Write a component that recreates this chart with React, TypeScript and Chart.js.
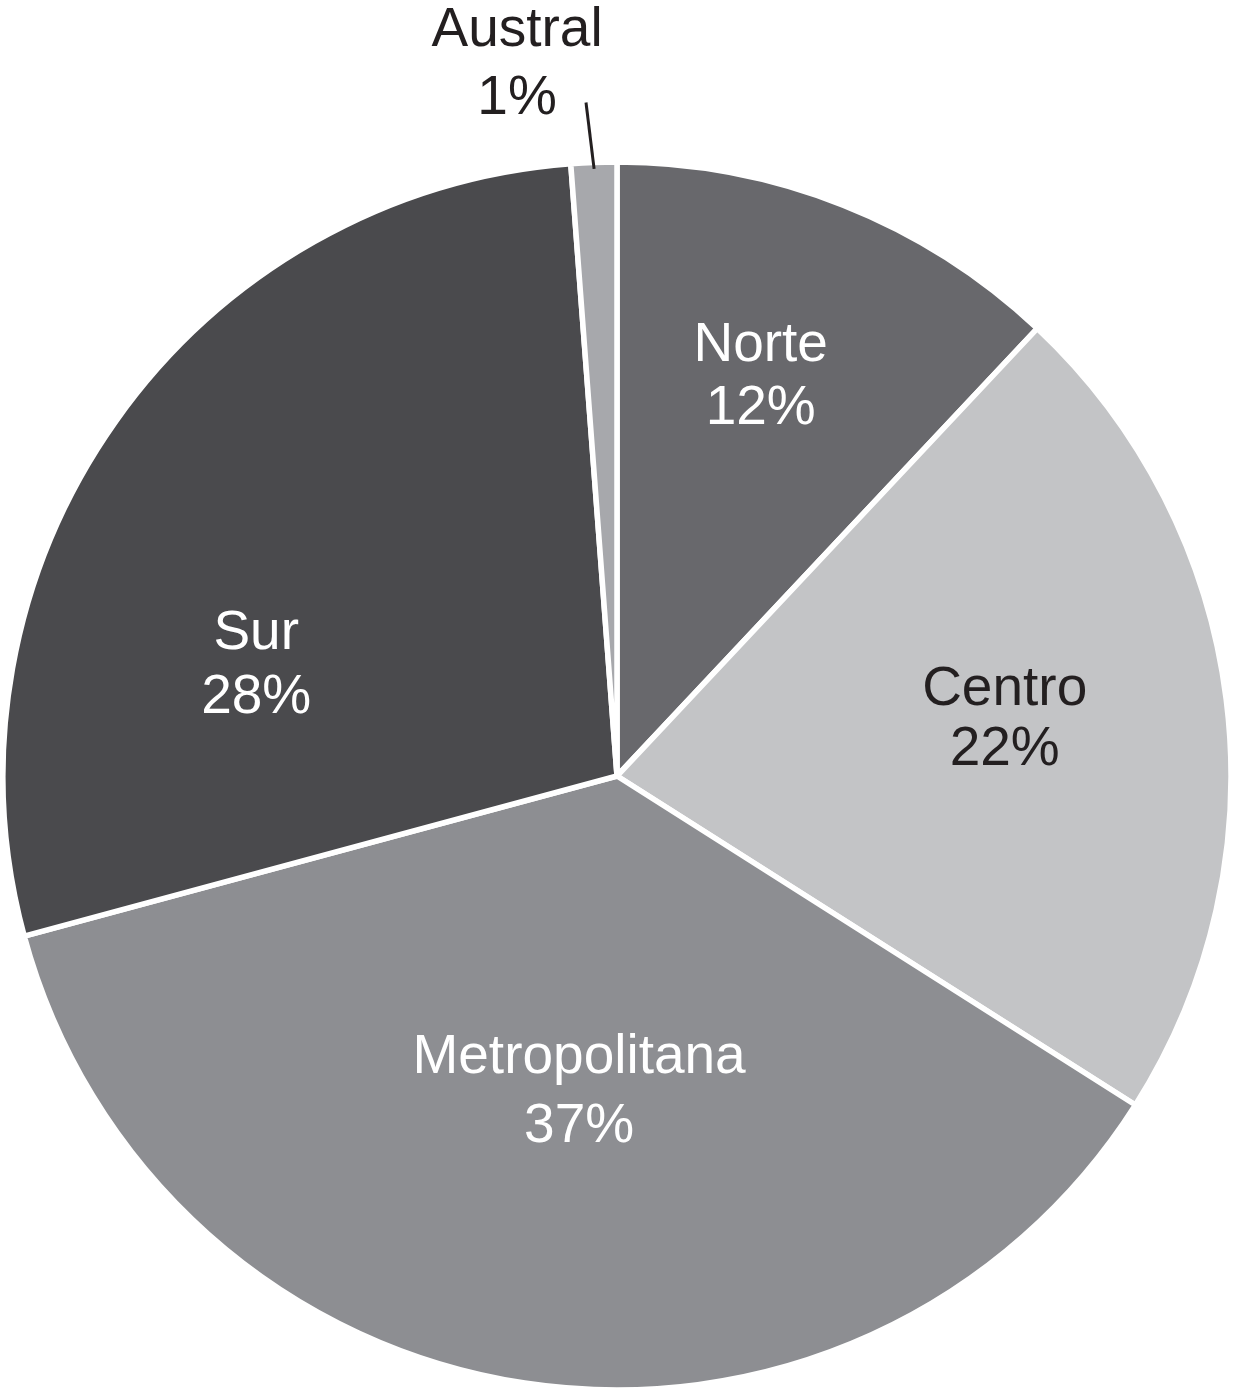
import React, { useEffect, useRef } from "react";
import { Chart, registerables } from "chart.js";

Chart.register(...registerables);

const regions = ["Norte", "Centro", "Metropolitana", "Sur", "Austral"];
const shares = [12.0, 22.0, 36.8, 28.0, 1.2];
const percentLabels = ["12%", "22%", "37%", "28%", "1%"];
const sliceColors = ["#68686c", "#c3c4c6", "#8d8e92", "#4a4a4d", "#a7a8ac"];
const textColors = ["#ffffff", "#231f20", "#ffffff", "#ffffff", "#231f20"];
// label anchor (first line baseline) as fractions of the radius, relative to pie center
const labelOffsets: [number, number][] = [
  [0.235, -0.678],
  [0.634, -0.116],
  [-0.062, 0.485],
  [-0.59, -0.2075],
  [-0.1634, -1.1944],
];
const lineGaps = [63, 60, 69, 64, 68];

const labelPlugin = {
  id: "sliceLabels",
  afterDatasetsDraw(chart: any) {
    const ctx = chart.ctx as CanvasRenderingContext2D;
    const meta = chart.getDatasetMeta(0);
    const arcs = meta.data;
    if (!arcs.length) return;
    const cx = arcs[0].x;
    const cy = arcs[0].y;
    const R = arcs[0].outerRadius - 2.5;
    ctx.save();
    ctx.font = "55px 'Liberation Sans', Arial, sans-serif";
    ctx.textAlign = "center";
    ctx.textBaseline = "alphabetic";
    regions.forEach((name, i) => {
      const [fx, fy] = labelOffsets[i];
      const x = cx + fx * R;
      const y = cy + fy * R;
      ctx.fillStyle = textColors[i];
      ctx.fillText(name, x, y);
      ctx.fillText(percentLabels[i], x, y + lineGaps[i]);
    });
    // leader line for the small Austral slice
    const a = arcs[4];
    const mid = (a.startAngle + a.endAngle) / 2;
    const ex = cx + Math.cos(mid) * (R - 4);
    const ey = cy + Math.sin(mid) * (R - 4);
    ctx.strokeStyle = "#231f20";
    ctx.lineWidth = 3;
    ctx.beginPath();
    ctx.moveTo(cx - 0.0507 * R, cy - 1.1013 * R);
    ctx.lineTo(ex, ey);
    ctx.stroke();
    ctx.restore();
  },
};

export default function App() {
  const ref = useRef<HTMLCanvasElement | null>(null);
  useEffect(() => {
    if (!ref.current) return;
    const chart = new Chart(ref.current, {
      type: "pie",
      data: {
        labels: regions,
        datasets: [
          {
            data: shares,
            backgroundColor: sliceColors,
            borderColor: "#ffffff",
            borderWidth: 5.5,
            hoverOffset: 0,
          },
        ],
      },
      options: {
        responsive: false,
        animation: false,
        radius: 614,
        layout: { padding: { top: 156, bottom: 0, left: 0, right: 0 } },
        plugins: {
          legend: { display: false },
          tooltip: { enabled: false },
          title: { display: false },
        },
        events: [],
      } as any,
      plugins: [labelPlugin],
    });
    return () => chart.destroy();
  }, []);
  return (
    <div style={{ position: "absolute", left: 0, top: 0, width: 1234, height: 1396, background: "#ffffff" }}>
      <canvas ref={ref} width={1234} height={1396} style={{ width: 1234, height: 1396, display: "block" }} />
    </div>
  );
}
